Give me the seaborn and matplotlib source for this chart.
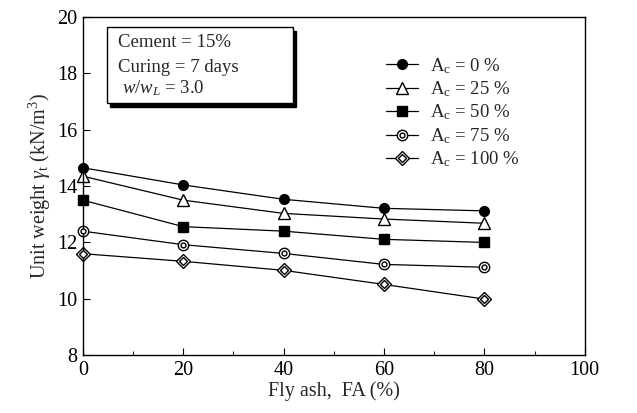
import matplotlib
matplotlib.use("Agg")
import matplotlib.pyplot as plt
import seaborn as sns
import pandas as pd
from matplotlib.lines import Line2D
from matplotlib.patches import Rectangle

fly_ash = [0, 20, 40, 60, 80]
ac_0 = [14.65, 14.04, 13.53, 13.21, 13.12]
ac_25 = [14.35, 13.50, 13.03, 12.83, 12.68]
ac_50 = [13.50, 12.56, 12.40, 12.11, 12.00]
ac_75 = [12.40, 11.92, 11.61, 11.22, 11.12]
ac_100 = [11.60, 11.33, 11.01, 10.51, 9.99]
labels = ["A$_\\mathrm{c}$ = 0 %", "A$_\\mathrm{c}$ = 25 %", "A$_\\mathrm{c}$ = 50 %",
          "A$_\\mathrm{c}$ = 75 %", "A$_\\mathrm{c}$ = 100 %"]

sns.set_style("ticks")
plt.rcParams['font.family'] = ['Liberation Serif', 'DejaVu Serif']
plt.rcParams['mathtext.fontset'] = 'custom'
plt.rcParams['mathtext.rm'] = 'Liberation Serif'
plt.rcParams['mathtext.it'] = 'Liberation Serif:italic'

fig = plt.figure(figsize=(6.37, 4.13), dpi=100)
ax = fig.add_axes([0.130, 0.140, 0.788, 0.819])

series = [ac_0, ac_25, ac_50, ac_75, ac_100]
df = pd.concat([pd.DataFrame({"FA": fly_ash, "gamma": s, "grp": lab}) for s, lab in zip(series, labels)])

styles = [
    dict(marker="o", mfc="black", ms=7),
    dict(marker="^", mfc="white", ms=8),
    dict(marker="s", mfc="black", ms=7),
    dict(marker="o", mfc="white", ms=7.5),
    dict(marker="D", mfc="white", ms=7.5),
]
inner = [None, None, None, dict(marker="o", mfc="white", ms=3.5), dict(marker="D", mfc="white", ms=3.8)]

handles = []
for s, lab, st, inn in zip(series, labels, styles, inner):
    sub = df[df.grp == lab]
    sns.lineplot(data=sub, x="FA", y="gamma", ax=ax, color="black", lw=0.9,
                 marker=st["marker"], markersize=st["ms"], markerfacecolor=st["mfc"],
                 markeredgecolor="black", markeredgewidth=1.0, legend=False, clip_on=False)
    h = Line2D([], [], color="black", lw=0.9, marker=st["marker"], markersize=st["ms"],
               markerfacecolor=st["mfc"], markeredgecolor="black", markeredgewidth=1.0)
    if inn is not None:
        ax.plot(sub["FA"], sub["gamma"], ls="none", marker=inn["marker"], markersize=inn["ms"],
                markerfacecolor=inn["mfc"], markeredgecolor="black", markeredgewidth=1.0,
                clip_on=False, zorder=5)
        h2 = Line2D([], [], ls="none", marker=inn["marker"], markersize=inn["ms"],
                    markerfacecolor=inn["mfc"], markeredgecolor="black", markeredgewidth=1.0)
        handles.append((h, h2))
    else:
        handles.append(h)

ax.set_xlim(0, 100)
ax.set_ylim(8, 20)
ax.set_xticks([0, 20, 40, 60, 80, 100])
ax.set_xticks([10, 30, 50, 70, 90], minor=True)
ax.set_yticks([8, 10, 12, 14, 16, 18, 20])
ax.tick_params(direction="in", length=5, width=0.8, labelsize=14.5, colors="black", pad=4)
ax.tick_params(which="minor", direction="in", length=3, width=0.8)
for sp in ax.spines.values():
    sp.set_visible(True)
    sp.set_color("black")
    sp.set_linewidth(1.0)

ax.set_xlabel("Fly ash,  FA (%)", fontsize=14.5, labelpad=1)
ax.set_ylabel("Unit weight $\\gamma_\\mathrm{t}$ (kN/m$^3$)", fontsize=14.5, labelpad=3)

leg = ax.legend(handles, labels, loc="upper left", bbox_to_anchor=(0.605, 0.885), frameon=False,
                fontsize=13.5, handlelength=1.7, labelspacing=0.2, handletextpad=0.6,
                borderaxespad=0, borderpad=0)

# text box with shadow
x0, y0, w, hgt = 0.048, 0.746, 0.370, 0.224
ax.add_patch(Rectangle((x0 + 0.007, y0 - 0.011), w, hgt, transform=ax.transAxes,
                       facecolor="black", edgecolor="black", zorder=6, clip_on=False))
ax.add_patch(Rectangle((x0, y0), w, hgt, transform=ax.transAxes,
                       facecolor="white", edgecolor="black", lw=1.0, zorder=7, clip_on=False))
ax.text(0.070, 0.923, "Cement = 15%", transform=ax.transAxes, fontsize=13.5, va="center", zorder=8)
ax.text(0.070, 0.851, "Curing = 7 days", transform=ax.transAxes, fontsize=13.5, va="center", zorder=8)
ax.text(0.078, 0.788, "$\\mathit{w/w_L}$ = 3.0", transform=ax.transAxes, fontsize=13.5, va="center", zorder=8)

fig.savefig("out.png", dpi=100)
